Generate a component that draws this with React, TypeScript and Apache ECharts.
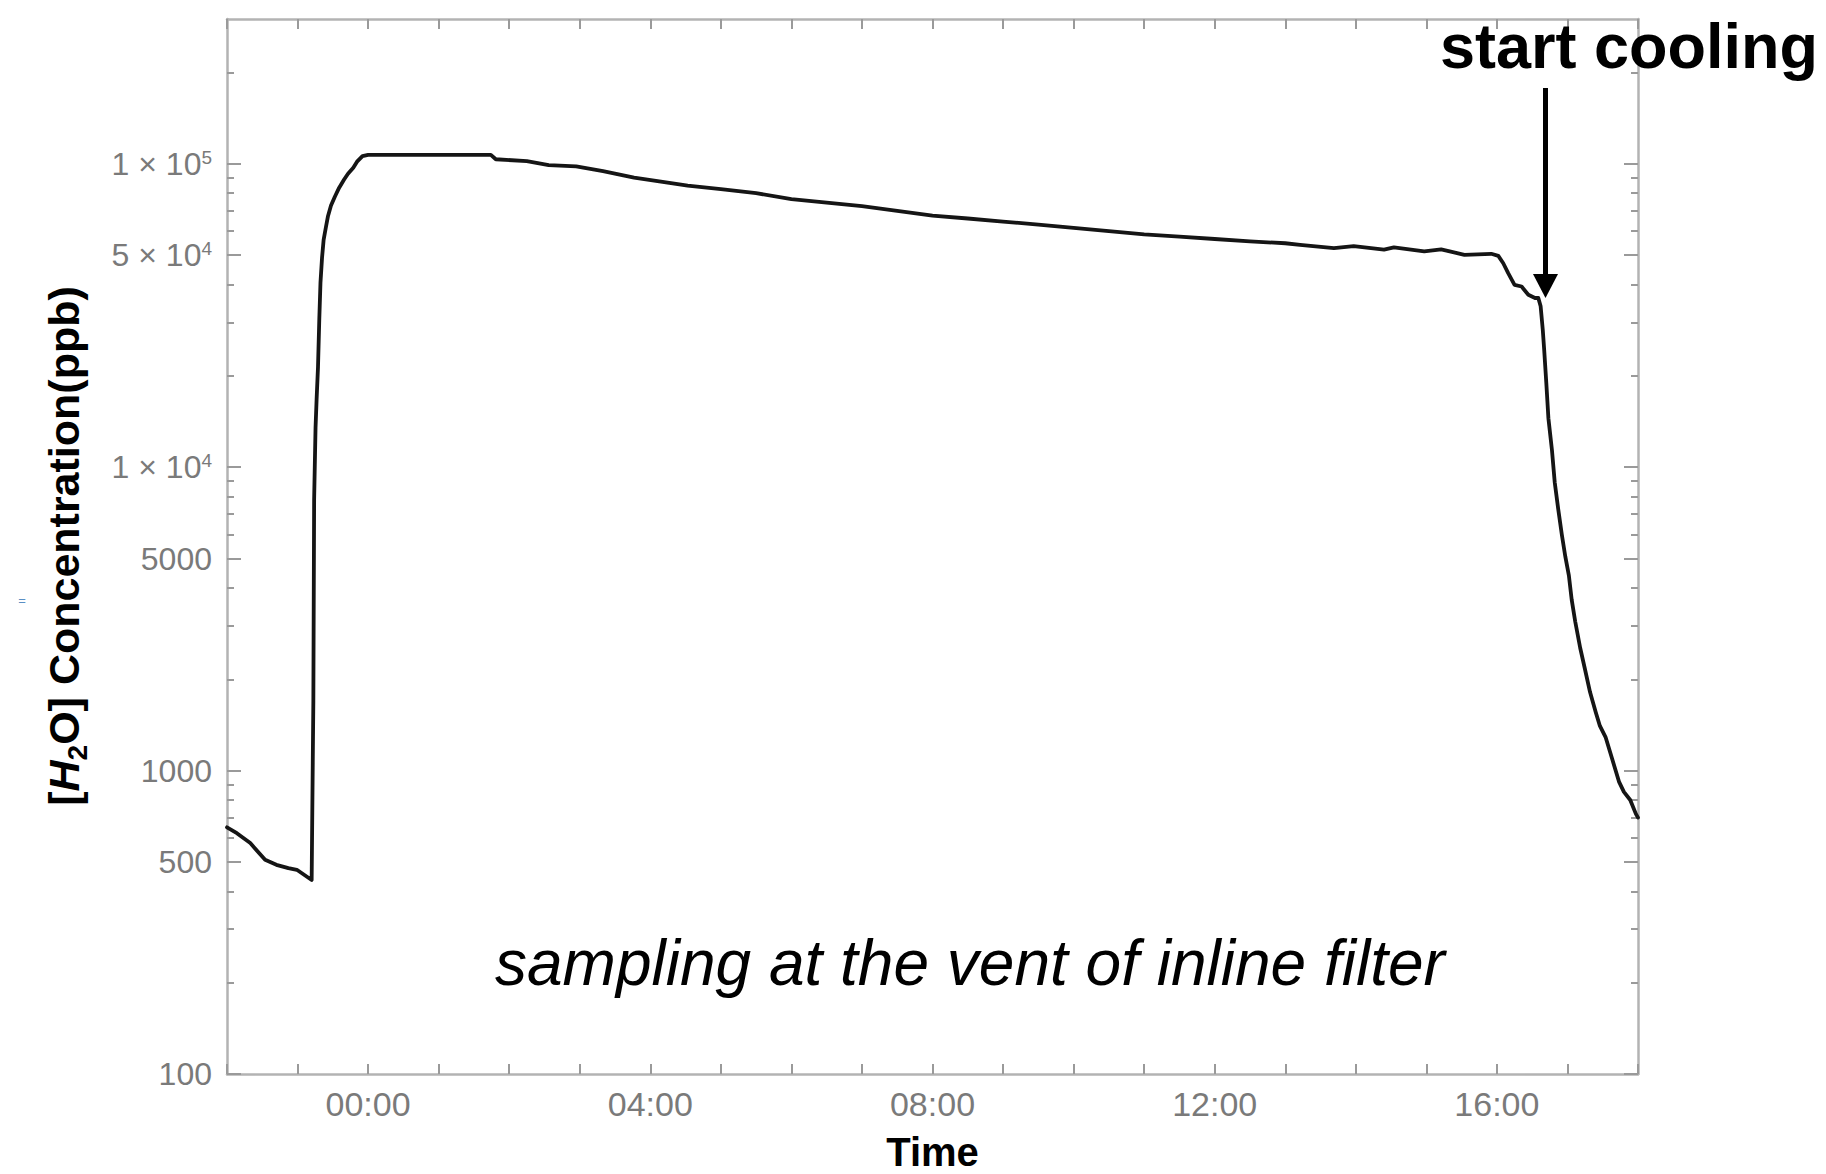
import React, { useEffect, useRef } from 'react';
import * as echarts from 'echarts';

// Time in hours relative to midnight (negative = previous evening)
const hours = [
  -2.0, -1.86, -1.67, -1.46, -1.3, -1.13, -1.01, -0.8,
  -0.776, -0.765, -0.745, -0.73, -0.71, -0.692, -0.675, -0.653, -0.63, -0.597, -0.57, -0.526, -0.47, -0.41,
  -0.34, -0.285, -0.21, -0.157, -0.08, 0.0,
  1.74, 1.81, 2.25, 2.56, 2.95, 3.33, 3.77, 4.27, 4.53,
  5.0, 5.5, 6.0, 6.5, 7.0, 7.5, 8.0, 8.5, 9.0, 9.5, 10.0, 10.5, 11.0, 11.5, 12.0, 12.5, 13.0,
  13.21, 13.69, 13.97, 14.4, 14.54, 14.97, 15.21, 15.54, 15.92, 16.02,
  16.09, 16.16, 16.25, 16.35, 16.445, 16.54, 16.587, 16.62, 16.65, 16.67, 16.7, 16.73,
  16.78, 16.82, 16.87, 16.92, 16.97, 17.02, 17.06, 17.11, 17.18, 17.25, 17.32, 17.4, 17.46,
  17.54, 17.63, 17.73, 17.8, 17.89, 17.97, 18.0,
];

// [H2O] concentration in ppb
const concentrationPpb = [
  650, 622, 577, 508, 489, 477, 471, 436,
  1700, 7800, 13500, 16700, 21400, 30600, 40600, 49000, 56200, 62000, 67000, 72800, 78000, 83400,
  88700, 92700, 97000, 101600, 106000, 107000,
  107000, 103500, 102000, 99000, 98000, 94500, 90000, 86500, 84700,
  82500, 80000, 76500, 74500, 72500, 70000, 67500, 66000, 64500, 63000, 61500, 60000, 58500, 57500, 56500, 55500, 54700,
  54000, 52700, 53500, 52100, 53000, 51400, 52200, 50100, 50500, 49700,
  47000, 43600, 39900, 39400, 37000, 36100, 36100, 33900, 28400, 24400, 19000, 14500,
  11400, 8900, 7250, 6000, 5070, 4400, 3660, 3100, 2540, 2150, 1815, 1560, 1403,
  1290, 1100, 920, 851, 800, 720, 700,
];

const labeledHours = [0, 4, 8, 12, 16];
const timeTickLabels = ['00:00', '04:00', '08:00', '12:00', '16:00'];

const yMajorTicks = [100, 500, 1000, 5000, 10000, 50000, 100000];
const yMajorLabels = ['100', '500', '1000', '5000', '1 × 10^4', '5 × 10^4', '1 × 10^5'];
const yMinorTicks = [
  200, 300, 400, 600, 700, 800, 900,
  2000, 3000, 4000, 6000, 7000, 8000, 9000,
  20000, 30000, 40000, 60000, 70000, 80000, 90000,
  200000,
];

const FONT = "'Liberation Sans', Arial, Helvetica, sans-serif";
const AXIS_COLOR = '#b3b3b3';
const TICK_COLOR = '#9a9a9a';
const LABEL_COLOR = '#7a7a7a';

export default function App() {
  const ref = useRef<HTMLDivElement>(null);

  useEffect(() => {
    if (!ref.current) return;
    const chart = echarts.init(ref.current, undefined, { renderer: 'svg' });

    const yLabelFormatter = (v: number) => {
      const i = yMajorTicks.findIndex((t) => Math.abs(t - v) / t < 1e-6);
      if (i < 0) return '';
      const s = yMajorLabels[i];
      const k = s.indexOf('^');
      if (k < 0) return s;
      return s.slice(0, k) + '{s|' + s.slice(k + 1) + '}';
    };

    const xLabelFormatter = (v: number) => {
      const r = Math.round(v);
      if (Math.abs(v - r) > 1e-6) return '';
      const i = labeledHours.indexOf(r);
      return i >= 0 ? timeTickLabels[i] : '';
    };

    const axisLine = { show: true, onZero: false, lineStyle: { color: AXIS_COLOR, width: 2.5 } };
    const noLine = { show: false, onZero: false };

    const yBase = {
      type: 'log' as const,
      logBase: 10,
      min: 100,
      max: 300000,
      splitLine: { show: false },
      minorTick: { show: false },
    };

    const option: any = {
      animation: false,
      backgroundColor: '#ffffff',
      grid: { left: 227, right: 188, top: 19, bottom: 100, containLabel: false, outerBoundsMode: 'none' },
      xAxis: [
        {
          type: 'value',
          position: 'bottom',
          min: -2,
          max: 18,
          interval: 1,
          axisLine,
          axisTick: { show: true, inside: true, length: 10, lineStyle: { color: TICK_COLOR, width: 2 } },
          axisLabel: {
            formatter: xLabelFormatter,
            color: LABEL_COLOR,
            fontSize: 34,
            fontFamily: FONT,
            margin: 13,
          },
          splitLine: { show: false },
          name: 'Time',
          nameLocation: 'middle',
          nameGap: 58,
          nameTextStyle: { fontSize: 40, fontWeight: 'bold', color: '#000', fontFamily: FONT },
        },
        {
          type: 'value',
          position: 'top',
          min: -2,
          max: 18,
          interval: 1,
          axisLine,
          axisTick: { show: true, inside: true, length: 10, lineStyle: { color: TICK_COLOR, width: 2 } },
          axisLabel: { show: false },
          splitLine: { show: false },
        },
      ],
      yAxis: [
        {
          ...yBase,
          position: 'left',
          axisLine,
          axisTick: { show: true, inside: true, length: 14, customValues: yMajorTicks, lineStyle: { color: TICK_COLOR, width: 2 } },
          axisLabel: {
            customValues: yMajorTicks,
            formatter: yLabelFormatter,
            color: LABEL_COLOR,
            fontSize: 32,
            fontFamily: FONT,
            margin: 15,
            rich: {
              s: { fontSize: 19, fontFamily: FONT, color: LABEL_COLOR, verticalAlign: 'top', lineHeight: 22 },
            },
          },
        },
        {
          ...yBase,
          position: 'right',
          axisLine,
          axisTick: { show: true, inside: true, length: 14, customValues: yMajorTicks, lineStyle: { color: TICK_COLOR, width: 2 } },
          axisLabel: { show: false },
        },
        {
          ...yBase,
          position: 'left',
          axisLine: noLine,
          axisTick: { show: true, inside: true, length: 7, customValues: yMinorTicks, lineStyle: { color: TICK_COLOR, width: 2 } },
          axisLabel: { show: false },
        },
        {
          ...yBase,
          position: 'right',
          axisLine: noLine,
          axisTick: { show: true, inside: true, length: 7, customValues: yMinorTicks, lineStyle: { color: TICK_COLOR, width: 2 } },
          axisLabel: { show: false },
        },
      ],
      series: [
        {
          type: 'line',
          xAxisIndex: 0,
          yAxisIndex: 0,
          data: hours.map((h, i) => [h, concentrationPpb[i]]),
          showSymbol: false,
          symbol: 'none',
          smooth: false,
          lineStyle: { color: '#151515', width: 3.8, join: 'round', cap: 'round' },
          z: 5,
        },
      ],
      graphic: [
        {
          type: 'text',
          x: 64,
          y: 546,
          rotation: Math.PI / 2,
          style: {
            text: '[{i|H}{sub|2}O] Concentration(ppb)',
            fill: '#000',
            fontSize: 43,
            fontWeight: 'bold',
            fontFamily: FONT,
            align: 'center',
            verticalAlign: 'middle',
            rich: {
              i: { fontSize: 43, fontWeight: 'bold', fontStyle: 'italic', fontFamily: FONT, fill: '#000' },
              sub: { fontSize: 28, fontWeight: 'bold', fontFamily: FONT, fill: '#000', verticalAlign: 'bottom', lineHeight: 54 },
            },
          },
        },
        {
          type: 'text',
          x: 22,
          y: 600,
          style: { text: '=', fill: '#5b8fc4', fontSize: 13, fontFamily: FONT, align: 'center', verticalAlign: 'middle' },
        },
        {
          type: 'text',
          x: 1440,
          y: 46,
          style: {
            text: 'start cooling',
            fill: '#000',
            fontSize: 63,
            fontWeight: 'bold',
            fontFamily: FONT,
            align: 'left',
            verticalAlign: 'middle',
          },
          z: 100,
        },
        {
          type: 'line',
          shape: { x1: 1545.5, y1: 88, x2: 1545.5, y2: 278 },
          style: { stroke: '#000', lineWidth: 5 },
          z: 100,
        },
        {
          type: 'polygon',
          shape: { points: [[1533, 274], [1558, 274], [1545.5, 298]] },
          style: { fill: '#000' },
          z: 100,
        },
        {
          type: 'text',
          x: 495,
          y: 963,
          style: {
            text: 'sampling at the vent of inline filter',
            fill: '#000',
            fontSize: 64,
            fontStyle: 'italic',
            fontWeight: 300,
            fontFamily: FONT,
            align: 'left',
            verticalAlign: 'middle',
          },
          z: 100,
        },
      ],
    };

    chart.setOption(option);
    return () => chart.dispose();
  }, []);

  return (
    <div
      ref={ref}
      style={{ position: 'absolute', left: 0, top: 0, width: 1826, height: 1174, background: '#fff' }}
    />
  );
}
